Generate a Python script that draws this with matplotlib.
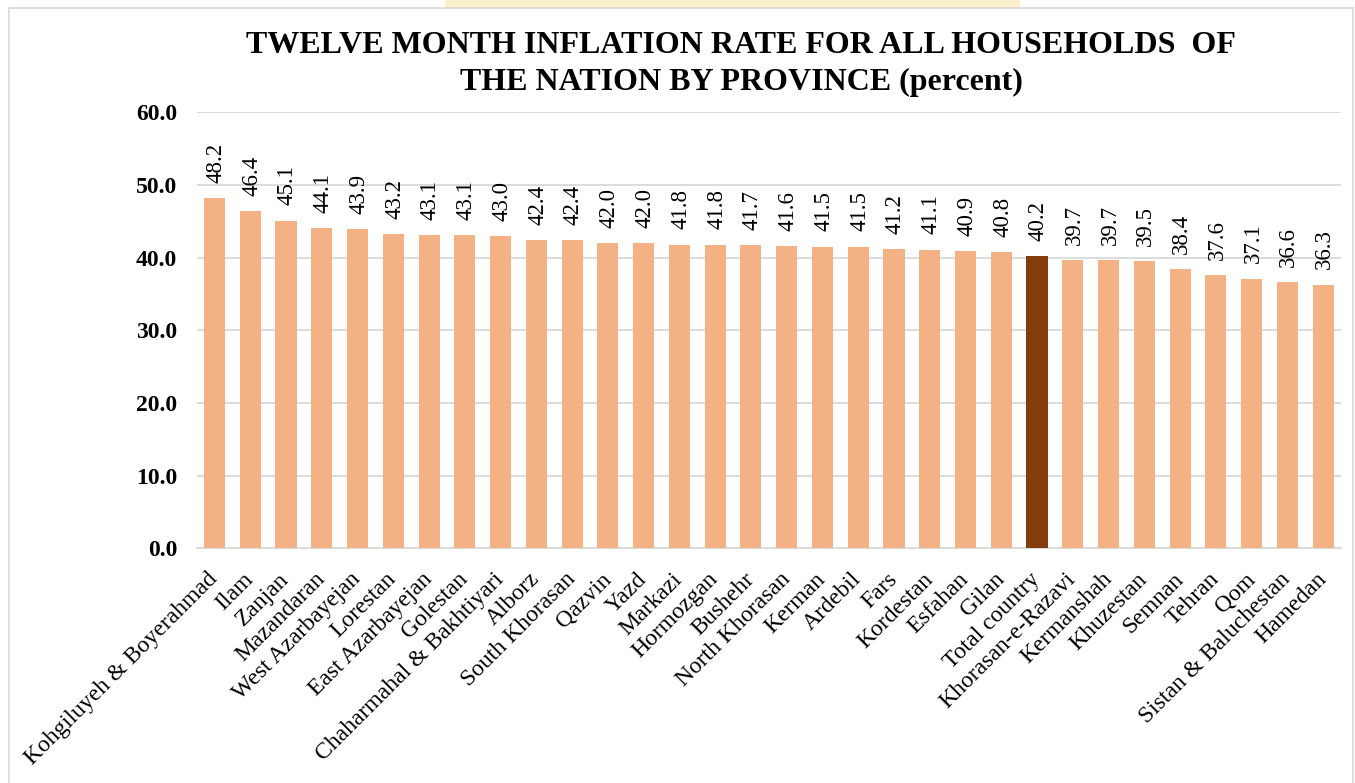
import matplotlib
matplotlib.use("Agg")
import matplotlib.pyplot as plt
from matplotlib.patches import Rectangle

provinces = ["Kohgiluyeh & Boyerahmad", "Ilam", "Zanjan", "Mazandaran", "West Azarbayejan",
             "Lorestan", "East Azarbayejan", "Golestan", "Chaharmahal & Bakhtiyari", "Alborz",
             "South Khorasan", "Qazvin", "Yazd", "Markazi", "Hormozgan", "Bushehr",
             "North Khorasan", "Kerman", "Ardebil", "Fars", "Kordestan", "Esfahan", "Gilan",
             "Total country", "Khorasan-e-Razavi", "Kermanshah", "Khuzestan", "Semnan",
             "Tehran", "Qom", "Sistan & Baluchestan", "Hamedan"]
inflation = [48.2, 46.4, 45.1, 44.1, 43.9, 43.2, 43.1, 43.1, 43.0, 42.4, 42.4, 42.0, 42.0,
             41.8, 41.8, 41.7, 41.6, 41.5, 41.5, 41.2, 41.1, 40.9, 40.8, 40.2, 39.7, 39.7,
             39.5, 38.4, 37.6, 37.1, 36.6, 36.3]
highlight = "Total country"
yticks = [0, 10, 20, 30, 40, 50, 60]
title = "TWELVE MONTH INFLATION RATE FOR ALL HOUSEHOLDS  OF\nTHE NATION BY PROVINCE (percent)"

plt.rcParams['font.family'] = ['Liberation Serif', 'DejaVu Serif']

fig = plt.figure(figsize=(13.55, 7.83), dpi=100)
W, H = 1355, 783

# faint watermark hint and border
fig.patches.append(Rectangle((445 / W, 1 - 10 / H), 575 / W, 10 / H, transform=fig.transFigure,
                             facecolor="#fdf0cc", edgecolor="none", zorder=0))
fig.patches.append(Rectangle((9 / W, -0.01), 1344 / W, 1 - 8 / H + 0.01, transform=fig.transFigure,
                             facecolor="white", edgecolor="#d9d9d9", linewidth=1.2, zorder=0.5))

ax = fig.add_axes([196.6 / W, (H - 548.3) / H, (1341 - 196.6) / W, (548.3 - 112.3) / H])
ax.set_zorder(2)
ax.patch.set_alpha(0)

x = list(range(len(provinces)))
colors = ["#843C0C" if p == highlight else "#F4B183" for p in provinces]
ax.bar(x, inflation, width=0.59, color=colors, zorder=3)

for xi, v in zip(x, inflation):
    ax.annotate(f"{v:.1f}", (xi, v), xytext=(1, 11), textcoords="offset points",
                rotation=90, ha="center", va="bottom", fontsize=16.5, color="black")

ax.set_xlim(-0.5, len(provinces) - 0.5)
ax.set_ylim(0, 60)
ax.set_yticks(yticks)
ax.set_yticklabels([f"{t:.1f}" for t in yticks], fontsize=17, fontweight="bold")
ax.yaxis.grid(True, color="#d9d9d9", linewidth=1.3, zorder=0)
ax.set_axisbelow(True)
for s in ["top", "right", "left"]:
    ax.spines[s].set_visible(False)
ax.spines["bottom"].set_color("#d9d9d9")
ax.spines["bottom"].set_linewidth(1.3)
ax.tick_params(axis="y", length=0, pad=14)
ax.tick_params(axis="x", length=0, pad=20)
ax.set_xticks(x)
ax.set_xticklabels(provinces, fontsize=17)
plt.setp(ax.get_xticklabels(), rotation=45, ha="right", va="center", rotation_mode="anchor")

fig.text(741 / W, 1 - 64 / H, title, ha="center", va="center", fontsize=23, fontweight="bold",
         linespacing=1.32)

fig.savefig("out.png", dpi=100, facecolor="white")
